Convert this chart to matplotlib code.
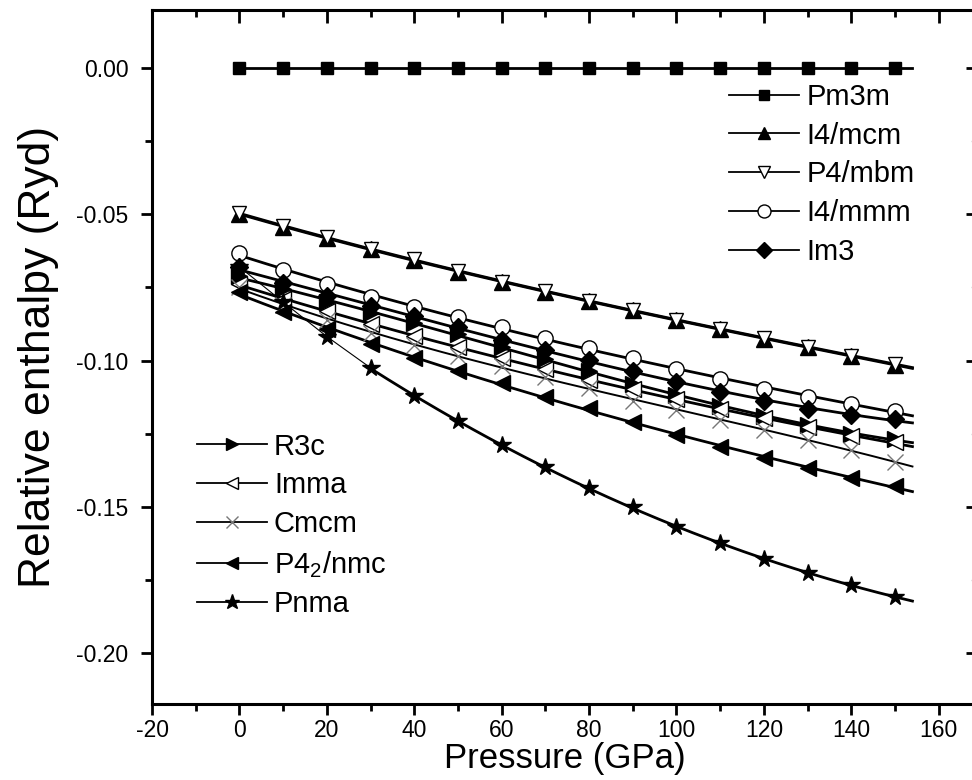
import numpy as np
import matplotlib.pyplot as plt

plt.rcParams['font.family'] = ['Liberation Sans', 'DejaVu Sans']
plt.rcParams['mathtext.default'] = 'regular'
plt.rcParams['axes.unicode_minus'] = False

# Pressure points (GPa)
pressure = [0, 10, 20, 30, 40, 50, 60, 70, 80, 90, 100, 110, 120, 130, 140, 150]

# Relative enthalpy (Ryd)
pm3m = [0.0, 0.0, 0.0, 0.0, 0.0, 0.0, 0.0, 0.0, 0.0, 0.0, 0.0, 0.0, 0.0, 0.0, 0.0, 0.0]
i4mcm = [-0.0500, -0.0542, -0.0582, -0.0620, -0.0655, -0.0698, -0.0733, -0.0765,
         -0.0798, -0.0828, -0.0862, -0.0894, -0.0925, -0.0955, -0.0985, -0.1015]
p4mbm = [-0.0497, -0.0540, -0.0579, -0.0618, -0.0653, -0.0695, -0.0731, -0.0763,
         -0.0796, -0.0826, -0.0860, -0.0892, -0.0923, -0.0953, -0.0983, -0.1012]
i4mmm = [-0.0632, -0.0690, -0.0738, -0.0783, -0.0817, -0.0851, -0.0885, -0.0923,
         -0.0957, -0.0991, -0.1029, -0.1063, -0.1097, -0.1125, -0.1148, -0.1172]
im3 = [-0.0680, -0.0735, -0.0780, -0.0815, -0.0848, -0.0885, -0.0930, -0.0963,
       -0.0998, -0.1035, -0.1073, -0.1107, -0.1140, -0.1165, -0.1185, -0.1200]
r3c = [-0.0712, -0.0755, -0.0800, -0.0838, -0.0872, -0.0910, -0.0955, -0.0995,
       -0.1035, -0.1080, -0.1118, -0.1155, -0.1190, -0.1220, -0.1250, -0.1268]
imma = [-0.0740, -0.0790, -0.0832, -0.0875, -0.0915, -0.0955, -0.0992, -0.1030,
        -0.1065, -0.1098, -0.1132, -0.1165, -0.1198, -0.1228, -0.1258, -0.1280]
cmcm = [-0.0750, -0.0810, -0.0860, -0.0905, -0.0946, -0.0984, -0.1020, -0.1056,
        -0.1094, -0.1138, -0.1169, -0.1203, -0.1237, -0.1271, -0.1306, -0.1347]
p42nmc = [-0.0766, -0.0834, -0.0893, -0.0945, -0.0990, -0.1035, -0.1078, -0.1124,
          -0.1163, -0.1210, -0.1254, -0.1295, -0.1333, -0.1367, -0.1401, -0.1429]
pnma = [-0.0680, -0.0800, -0.0918, -0.1025, -0.1122, -0.1208, -0.1289, -0.1364,
        -0.1437, -0.1502, -0.1569, -0.1624, -0.1678, -0.1726, -0.1767, -0.1808]

y_major = [-0.20, -0.15, -0.10, -0.05, 0.00]
y_major_labels = ['-0.20', '-0.15', '-0.10', '-0.05', '0.00']
y_minor = [-0.20, -0.175, -0.15, -0.125, -0.10, -0.075, -0.05, -0.025, 0.0]
x_major = [-20, 0, 20, 40, 60, 80, 100, 120, 140, 160]
x_minor = [-20, -10, 0, 10, 20, 30, 40, 50, 60, 70, 80, 90, 100, 110, 120,
           130, 140, 150, 160]

fig = plt.figure(figsize=(9.72, 7.8), dpi=100)
ax = fig.add_axes([152 / 972, 76 / 780, 826 / 972, 694 / 780])

x = np.array(pressure, dtype=float)
xfit = np.linspace(0, 154, 200)


def draw(vals, marker, label, face='black', edge='black', lw=2.0, ms=10,
         mew=1.0, deg=3, start=0):
    y = np.array(vals)
    # smooth fitted curve, as in the original figure
    coef = np.polyfit(x[start:], y[start:], deg)
    xs = xfit[xfit >= x[start]]
    ax.plot(xs, np.polyval(coef, xs), color='black', lw=lw, zorder=2)
    ax.plot(x, y, ls='none', marker=marker, ms=ms, mfc=face, mec=edge,
            mew=mew, zorder=3)
    # proxy for the legend
    h, = ax.plot([], [], color='black', lw=1.3, marker=marker, ms=ms * 0.85,
                 mfc=face, mec=edge, mew=mew, label=label)
    return h


h1 = [
    draw(pm3m, 's', 'Pm3m', ms=9, deg=1),
    draw(i4mcm, '^', 'I4/mcm', ms=11),
    draw(p4mbm, 'v', 'P4/mbm', face='white', ms=10),
    draw(i4mmm, 'o', 'I4/mmm', face='white', ms=11),
    draw(im3, 'D', 'Im3', ms=9),
]

h2 = [
    draw(r3c, '>', 'R3c', ms=11),
    draw(imma, '<', 'Imma', face='white', ms=11),
    draw(cmcm, 'x', 'Cmcm', edge='#777777', lw=1.4, ms=11, mew=1.0),
    draw(p42nmc, '<', 'P4$_2$/nmc', ms=11),
]
# Pnma: thin connecting line at low pressure, fitted curve above 30 GPa
ax.plot(pressure[:4], pnma[:4], color='black', lw=0.8, zorder=2)
h2.append(draw(pnma, '*', 'Pnma', ms=13, start=3))

ax.set_xticks(x_major)
ax.set_xticks(x_minor, minor=True)
ax.set_yticks(y_major)
ax.set_yticks(y_minor, minor=True)
ax.set_yticklabels(y_major_labels)
ax.set_xlim(-20, 169)
ax.set_ylim(-0.2174, 0.0198)

for s in ax.spines.values():
    s.set_linewidth(2.2)

ax.tick_params(axis='both', which='major', direction='out', length=8,
               width=2, labelsize=16.5, pad=3)
ax.tick_params(axis='y', which='major', pad=9)
ax.tick_params(axis='both', which='minor', direction='out', length=5, width=2)
ax2 = ax.secondary_xaxis('top')
ax2.set_xticks(x_major)
ax2.set_xticks(x_minor, minor=True)
ax2.tick_params(which='major', direction='in', length=9, width=2, labeltop=False)
ax2.tick_params(which='minor', direction='in', length=5, width=2)
ax3 = ax.secondary_yaxis('right')
ax3.set_yticks(y_major)
ax3.set_yticks(y_minor, minor=True)
ax3.tick_params(which='major', direction='in', length=9, width=2, labelright=False)
ax3.tick_params(which='minor', direction='in', length=5, width=1, colors='#cccccc')

ax.set_xlabel('Pressure (GPa)', fontsize=25, labelpad=0)
ax.set_ylabel('Relative enthalpy (Ryd)', fontsize=32, labelpad=12)

leg1 = ax.legend(handles=h1, loc='upper left', bbox_to_anchor=(0.685, 0.912),
                 frameon=False, fontsize=21, handlelength=2.4,
                 handletextpad=0.25, labelspacing=0.37, borderaxespad=0)
ax.add_artist(leg1)
ax.legend(handles=h2, loc='upper left', bbox_to_anchor=(0.04, 0.408),
          frameon=False, fontsize=21, handlelength=2.4, handletextpad=0.25,
          labelspacing=0.37, borderaxespad=0)

fig.savefig('out.png', dpi=100)
